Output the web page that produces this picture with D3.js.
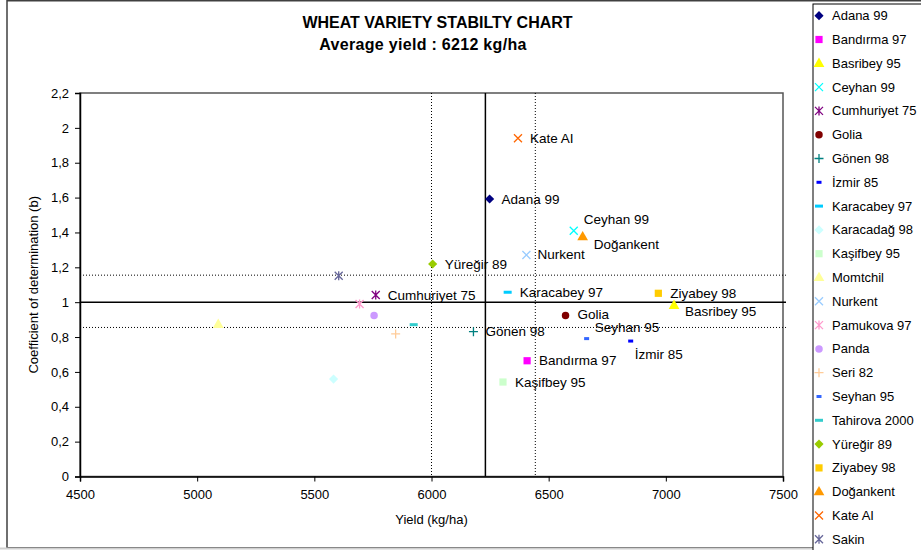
<!DOCTYPE html>
<html>
<head>
<meta charset="utf-8">
<script src="https://cdn.jsdelivr.net/npm/d3@7"></script>
<style>
  html, body { margin: 0; padding: 0; background: #fff; }
  svg { display: block; font-family: "Liberation Sans", Arial, sans-serif; }
</style>
</head>
<body>
<svg id="chart" width="921" height="550"></svg>
<script>
// ---------------- DATA ----------------
const varieties = ["Adana 99", "Bandırma 97", "Basribey 95", "Ceyhan 99", "Cumhuriyet 75", "Golia",
  "Gönen 98", "İzmir 85", "Karacabey 97", "Karacadağ 98", "Kaşifbey 95", "Momtchil", "Nurkent",
  "Pamukova 97", "Panda", "Seri 82", "Seyhan 95", "Tahirova 2000", "Yüreğir 89", "Ziyabey 98",
  "Doğankent", "Kate AI", "Sakin"];
const yields = [6248, 6408, 7035, 6607, 5762, 6572,
  6179, 6850, 6325, 5582, 6305, 5090, 6405,
  5693, 5755, 5847, 6662, 5924, 6005, 6968,
  6645, 6369, 5604];
const coefficients = [1.592, 0.664, 0.982, 1.410, 1.041, 0.923,
  0.831, 0.777, 1.057, 0.559, 0.542, 0.873, 1.271,
  0.990, 0.923, 0.818, 0.791, 0.871, 1.219, 1.051,
  1.376, 1.940, 1.152];
const labelled = ["Adana 99", "Bandırma 97", "Basribey 95", "Ceyhan 99", "Cumhuriyet 75", "Golia",
  "Gönen 98", "İzmir 85", "Karacabey 97", "Kaşifbey 95", "Nurkent", "Seyhan 95", "Yüreğir 89",
  "Ziyabey 98", "Doğankent", "Kate AI"];
const xTicks = [4500, 5000, 5500, 6000, 6500, 7000, 7500];
const yTicks = [0, 0.2, 0.4, 0.6, 0.8, 1, 1.2, 1.4, 1.6, 1.8, 2, 2.2];
const meanYield = 6230;
const yieldBand = [6000, 6443];
const meanCoef = 1;
const coefBand = [0.855, 1.155];
const titleText = "WHEAT VARIETY STABILTY CHART";
const subtitleText = "Average yield : 6212 kg/ha";
const xLabel = "Yield (kg/ha)";
const yLabel = "Coefficient of determination (b)";

// ---------------- STYLES ----------------
const markerStyle = {
  "Adana 99": ["diamond", "#000080"],
  "Bandırma 97": ["square", "#FF00FF"],
  "Basribey 95": ["triangle", "#FFFF00"],
  "Ceyhan 99": ["x", "#00FFFF"],
  "Cumhuriyet 75": ["star", "#800080"],
  "Golia": ["circle", "#800000"],
  "Gönen 98": ["plus", "#008080"],
  "İzmir 85": ["dash", "#0000FF"],
  "Karacabey 97": ["longdash", "#00CCFF"],
  "Karacadağ 98": ["diamond", "#CCFFFF"],
  "Kaşifbey 95": ["square", "#CCFFCC"],
  "Momtchil": ["triangle", "#FFFF99"],
  "Nurkent": ["x", "#99CCFF"],
  "Pamukova 97": ["star", "#FF99CC"],
  "Panda": ["circle", "#CC99FF"],
  "Seri 82": ["plus", "#FFCC99"],
  "Seyhan 95": ["dash", "#3366FF"],
  "Tahirova 2000": ["longdash", "#33CCCC"],
  "Yüreğir 89": ["diamond", "#99CC00"],
  "Ziyabey 98": ["square", "#FFCC00"],
  "Doğankent": ["triangle", "#FF9900"],
  "Kate AI": ["x", "#FF6600"],
  "Sakin": ["star", "#666699"]
};
const labelOffset = {
  "Ceyhan 99": [10, -11],
  "Doğankent": [11, 8],
  "Basribey 95": [11, 6],
  "Seyhan 95": [8, -11],
  "İzmir 85": [4, 13],
  "Nurkent": [11, -1],
  "Golia": [12, -1]
};

// ---------------- LAYOUT ----------------
const svg = d3.select("#chart");
const plot = { left: 80, right: 783, top: 93, bottom: 476.5 };
const x = d3.scaleLinear().domain([4500, 7500]).range([plot.left, plot.right]);
const y = d3.scaleLinear().domain([0, 2.2]).range([plot.bottom, plot.top]);

// chart area frame
svg.append("rect").attr("x", 7).attr("y", 0.75).attr("width", 960).attr("height", 547)
  .attr("fill", "#fff").attr("stroke", "#404040").attr("stroke-width", 1.5);
svg.append("line").attr("x1", 0).attr("x2", 921).attr("y1", 548.5).attr("y2", 548.5)
  .attr("stroke", "#d0d0d0").attr("stroke-width", 2);

// titles
svg.append("text").attr("x", 437.5).attr("y", 28).attr("text-anchor", "middle")
  .attr("font-size", 16).attr("font-weight", "bold").attr("fill", "#000").text(titleText);
svg.append("text").attr("x", 423).attr("y", 50).attr("text-anchor", "middle")
  .attr("font-size", 16).attr("font-weight", "bold").attr("fill", "#000")
  .attr("letter-spacing", 0.3).text(subtitleText);

// plot area border
svg.append("rect").attr("x", plot.left).attr("y", plot.top)
  .attr("width", plot.right - plot.left).attr("height", plot.bottom - plot.top)
  .attr("fill", "none").attr("stroke", "#555").attr("stroke-width", 1.5);

// reference lines
const g = svg.append("g");
yieldBand.forEach(v => {
  g.append("line").attr("x1", x(v)).attr("x2", x(v)).attr("y1", plot.top).attr("y2", plot.bottom)
    .attr("stroke", "#000").attr("stroke-width", 1).attr("stroke-dasharray", "1,2");
});
coefBand.forEach(v => {
  g.append("line").attr("x1", plot.left).attr("x2", plot.right + 3).attr("y1", y(v)).attr("y2", y(v))
    .attr("stroke", "#000").attr("stroke-width", 1).attr("stroke-dasharray", "1,2");
});
g.append("line").attr("x1", x(meanYield)).attr("x2", x(meanYield)).attr("y1", plot.top).attr("y2", plot.bottom)
  .attr("stroke", "#000").attr("stroke-width", 1.5);
g.append("line").attr("x1", plot.left).attr("x2", plot.right + 3).attr("y1", y(meanCoef)).attr("y2", y(meanCoef))
  .attr("stroke", "#000").attr("stroke-width", 1.5);

// axes
const fmt = d => String(d).replace(".", ",");
const xAxis = svg.append("g").attr("transform", `translate(0,${plot.bottom})`)
  .call(d3.axisBottom(x).tickValues(xTicks).tickSize(5).tickPadding(8).tickFormat(d => d));
const yAxis = svg.append("g").attr("transform", `translate(${plot.left},0)`)
  .call(d3.axisLeft(y).tickValues(yTicks).tickSize(5).tickPadding(6).tickFormat(fmt));
[xAxis, yAxis].forEach(a => {
  a.select(".domain").attr("stroke", "#000").attr("stroke-width", 1.5);
  a.selectAll(".tick line").attr("stroke", "#000");
  a.selectAll(".tick text").attr("font-size", 13).attr("fill", "#000")
    .attr("font-family", "Liberation Sans, Arial, sans-serif");
});

svg.append("text").attr("x", (plot.left + plot.right) / 2).attr("y", 524).attr("text-anchor", "middle")
  .attr("font-size", 13).attr("fill", "#000").text(xLabel);
svg.append("text").attr("transform", `translate(38,${(plot.top + plot.bottom) / 2}) rotate(-90)`)
  .attr("text-anchor", "middle").attr("font-size", 13).attr("fill", "#000").text(yLabel);

// marker drawing
function drawMarker(sel, shape, color) {
  switch (shape) {
    case "diamond":
      sel.append("path").attr("d", d3.symbol(d3.symbolSquare, 42)()).attr("transform", "rotate(45)").attr("fill", color); break;
    case "square":
      sel.append("path").attr("d", d3.symbol(d3.symbolSquare, 52)()).attr("fill", color); break;
    case "triangle":
      sel.append("path").attr("d", d3.symbol(d3.symbolTriangle, 50)()).attr("transform", "translate(0,0.5)").attr("fill", color); break;
    case "circle":
      sel.append("path").attr("d", d3.symbol(d3.symbolCircle, 44)()).attr("fill", color); break;
    case "x":
      sel.append("path").attr("d", "M-4,-4L4,4M-4,4L4,-4").attr("stroke", color).attr("stroke-width", 1.3).attr("fill", "none"); break;
    case "plus":
      sel.append("path").attr("d", "M-4.5,0L4.5,0M0,-4.5L0,4.5").attr("stroke", color).attr("stroke-width", 1.3).attr("fill", "none"); break;
    case "star":
      sel.append("path").attr("d", "M-4,-4L4,4M-4,4L4,-4M0,-4.5L0,4.5").attr("stroke", color).attr("stroke-width", 1.3).attr("fill", "none"); break;
    case "dash":
      sel.append("rect").attr("x", -2.5).attr("y", -1.5).attr("width", 5).attr("height", 3).attr("fill", color); break;
    case "longdash":
      sel.append("rect").attr("x", -4).attr("y", -1.5).attr("width", 8).attr("height", 3).attr("fill", color); break;
  }
}

// points
const points = varieties.map((name, i) => ({ name, yld: yields[i], coef: coefficients[i] }));
const pts = svg.append("g").selectAll("g").data(points).join("g")
  .attr("transform", d => `translate(${x(d.yld)},${y(d.coef)})`);
pts.each(function (d) { drawMarker(d3.select(this), markerStyle[d.name][0], markerStyle[d.name][1]); });

// data labels
svg.append("g").selectAll("text").data(points.filter(d => labelled.includes(d.name))).join("text")
  .attr("x", d => x(d.yld) + (labelOffset[d.name] ? labelOffset[d.name][0] : 12))
  .attr("y", d => y(d.coef) + (labelOffset[d.name] ? labelOffset[d.name][1] : 0))
  .attr("dy", "0.35em").attr("font-size", 13.5).attr("fill", "#000")
  .text(d => d.name);

// legend
svg.append("rect").attr("x", 813).attr("y", 4).attr("width", 120).attr("height", 560)
  .attr("fill", "#fff").attr("stroke", "#000").attr("stroke-width", 1);
const leg = svg.append("g").selectAll("g").data(varieties).join("g")
  .attr("transform", (d, i) => `translate(819,${15.7 + i * 23.8})`);
leg.each(function (d) { drawMarker(d3.select(this), markerStyle[d][0], markerStyle[d][1]); });
leg.append("text").attr("x", 13).attr("dy", "0.35em").attr("font-size", 13).attr("fill", "#000").text(d => d);
</script>
</body>
</html>
